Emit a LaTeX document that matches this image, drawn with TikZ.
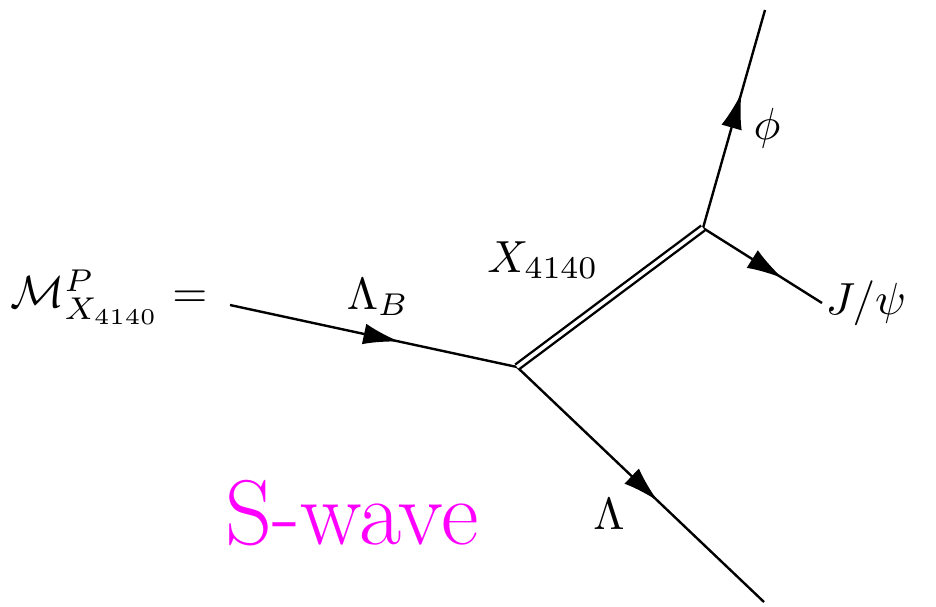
\documentclass[tikz,border=0pt]{standalone}
\usetikzlibrary{arrows.meta,decorations.markings}
\definecolor{swave}{RGB}{255,0,255}
\tikzset{
  fermion/.style={line width=2.4pt,postaction={decorate},
    decoration={markings,mark=at position #1 with {\arrow{Latex[length=36pt,width=21pt]}}}},
  dbl/.style={line width=2.4pt,double,double distance=3.6pt},
  lbl/.style={scale=4.5,inner sep=0pt},
}
\begin{document}
\begin{tikzpicture}[x=1pt,y=-1pt]
\useasboundingbox (0,0) rectangle (936,606);
\coordinate (in) at (230,305);
\coordinate (v1) at (517,367);
\coordinate (v2) at (703,228);
\coordinate (phiend) at (765,10);
\coordinate (jend) at (822,303);
\coordinate (lamend) at (764,602);
\draw[fermion=0.59] (in) -- (v1);
\draw[fermion=0.62] (v2) -- (phiend);
\draw[fermion=0.67] (v2) -- (jend);
\draw[fermion=0.57] (v1) -- (lamend);
\draw[dbl] (v1) -- (v2);
\node[lbl] (mlab) at (109,297) {$\mathcal{M}^{P}_{X_{4140}}=$};
\node[lbl] (lb) at (378,297) {$\Lambda_B$};
\node[lbl] (xl) at (543,260) {$X_{4140}$};
\node[lbl] (phil) at (767,128) {$\phi$};
\node[lbl] (jl) at (866,303) {$J/\psi$};
\node[lbl] (laml) at (609,514) {$\Lambda$};
\node[font=\fontsize{92}{98}\selectfont,text=swave,inner sep=0pt,anchor=base west] (sw) at (225,544) {S-wave};
\end{tikzpicture}
\end{document}
